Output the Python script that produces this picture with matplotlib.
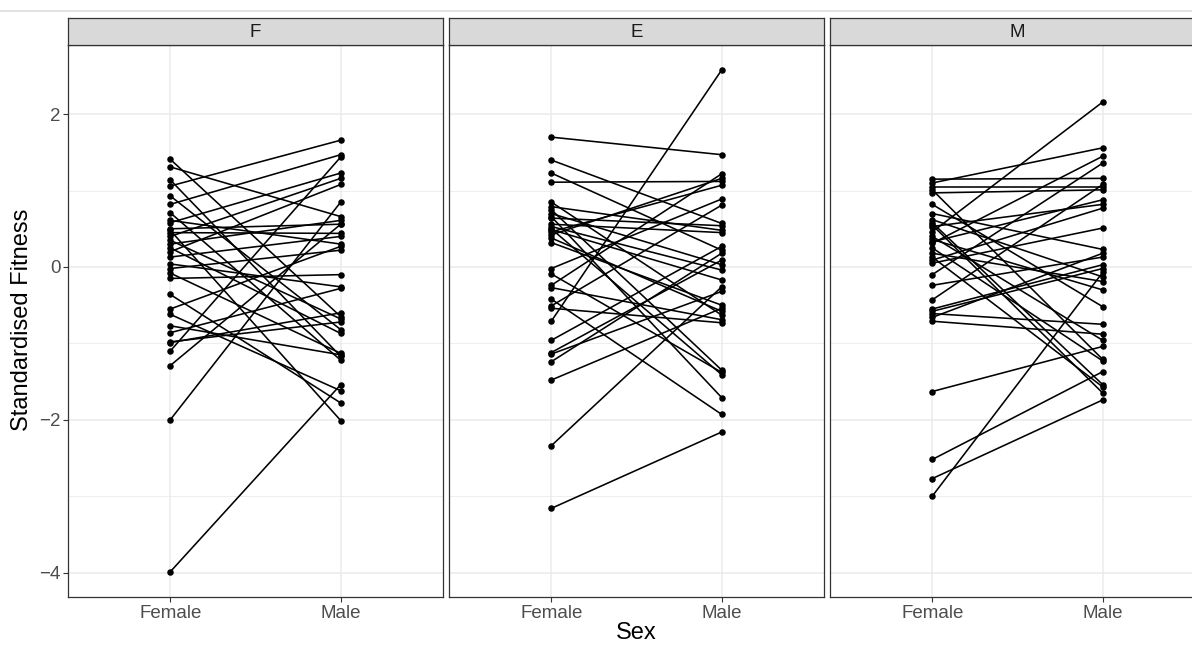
import numpy as np
import matplotlib
matplotlib.use("Agg")
import matplotlib.pyplot as plt
from matplotlib.lines import Line2D

plt.rcParams['font.family'] = ['Liberation Sans', 'DejaVu Sans']

# facet labels and x categories
facets = ["F", "E", "M"]
sexes = ["Female", "Male"]

# paired values (female, male) per facet
f_female = [1.41, 1.31, 1.14, 1.06, 0.93, 0.82, 0.71, 0.61, 0.58, 0.50, 0.45, 0.40,
            0.30, 0.20, 0.13, 0.04, -0.02, -0.08, -0.15, -0.36, -0.55, -0.62, -0.77,
            -0.86, -0.99, -1.10, -1.29, -2.00, -3.99, 0.35, 0.48, 0.25, -0.98]
f_male = [-0.65, 0.66, -1.17, 1.66, -0.82, 1.47, -1.22, 0.30, 1.23, 0.56, 0.44, 1.16,
          0.61, 1.08, 0.40, -0.26, 0.22, -1.13, -0.10, -1.78, 0.27, -1.62, -1.15,
          -0.28, -0.60, 1.44, 0.56, 0.85, -1.54, -0.68, -2.01, -0.87, -0.72]

e_female = [1.70, 1.40, 1.23, 1.11, 0.85, 0.79, 0.75, 0.66, 0.64, 0.56, 0.53, 0.49,
            0.46, 0.42, 0.38, 0.32, -0.02, -0.09, -0.24, -0.27, -0.42, -0.51, -0.54,
            -0.71, -0.96, -1.12, -1.14, -1.24, -1.48, -2.34, -3.16, 0.50, 0.70]
e_male = [1.47, 0.57, 0.22, 1.12, -0.63, 0.48, -1.35, -1.71, 0.54, 0.45, -0.04, -0.17,
          1.07, 1.16, -0.58, -0.50, 0.89, -1.38, 1.22, -0.69, -1.93, 0.81, -0.73,
          2.58, 0.27, 0.09, -0.32, 0.18, -0.54, -0.26, -2.16, -1.41, 0.03]

m_female = [1.15, 1.10, 1.01, 0.97, 0.82, 0.70, 0.58, 0.53, 0.46, 0.36, 0.31, 0.18,
            0.13, 0.09, -0.10, -0.24, -0.43, -0.55, -0.61, -0.66, -0.71, -1.63, -2.52,
            -2.77, -3.00, 0.40, 0.25, 0.55, 0.05, 0.62, -0.58, 1.05, 0.33]
m_male = [1.16, 1.56, -1.21, 1.01, -0.52, 0.23, -1.54, 0.82, 2.16, -0.30, 1.45, -0.19,
          -1.57, 0.77, 1.36, 0.13, 1.08, 0.03, -0.75, 0.18, -0.88, -1.04, -1.37,
          -1.74, -0.07, -0.96, -1.23, -1.65, 0.51, -0.13, -0.02, 1.05, 0.88]

data = {"F": (f_female, f_male), "E": (e_female, e_male), "M": (m_female, m_male)}

W, H = 1192, 645
fig = plt.figure(figsize=(W / 100, H / 100), dpi=100)

grid_col = "#EBEBEB"
border_col = "#333333"
panel_left = [68, 449, 830]
panel_w = 375
top, bottom = 45, 597
strip_h = 27

for i, name in enumerate(facets):
    x0 = panel_left[i]
    ax = fig.add_axes([x0 / W, (H - bottom) / H, panel_w / W, (bottom - top) / H])
    fem, mal = data[name]
    for a, b in zip(fem, mal):
        ax.plot([1, 2], [a, b], color="black", lw=1.15, zorder=3)
    ax.scatter([1] * len(fem), fem, s=22, color="black", zorder=4, linewidths=0)
    ax.scatter([2] * len(mal), mal, s=22, color="black", zorder=4, linewidths=0)

    ax.set_xlim(0.4, 2.6)
    ax.set_ylim(-4.32, 2.906)
    ax.set_yticks([-4, -2, 0, 2])
    ax.set_yticklabels(["\u22124", "\u22122", "0", "2"])
    ax.set_yticks([-3, -1, 1], minor=True)
    ax.set_xticks([1, 2])
    ax.set_xticklabels(sexes)
    ax.grid(True, which="major", color=grid_col, lw=1.1, zorder=0)
    ax.grid(True, which="minor", axis="y", color=grid_col, lw=0.6, zorder=0)
    ax.tick_params(which="minor", length=0)
    ax.tick_params(which="major", length=3.5, color=border_col, labelsize=13.5,
                   labelcolor="#4D4D4D", pad=2)
    if i > 0:
        ax.tick_params(axis="y", left=False, labelleft=False)
    for sp in ax.spines.values():
        sp.set_color(border_col)
        sp.set_linewidth(0.9)

    # strip on top
    sax = fig.add_axes([x0 / W, (H - top) / H, panel_w / W, strip_h / H])
    sax.set_facecolor("#D9D9D9")
    sax.set_xticks([])
    sax.set_yticks([])
    for sp in sax.spines.values():
        sp.set_color(border_col)
        sp.set_linewidth(0.9)
    sax.text(0.5, 0.45, name, ha="center", va="center", fontsize=13.5,
             color="#1A1A1A", transform=sax.transAxes)

fig.text(636 / W, (H - 633) / H, "Sex", ha="center", va="center", fontsize=17)
fig.text(22 / W, (H - 320) / H, "Standardised Fitness", ha="center", va="center",
         rotation=90, fontsize=17)
fig.add_artist(Line2D([0, 1], [(H - 11) / H] * 2, color="#DDDDDD", lw=1.2))

fig.savefig("out.png", dpi=100)
